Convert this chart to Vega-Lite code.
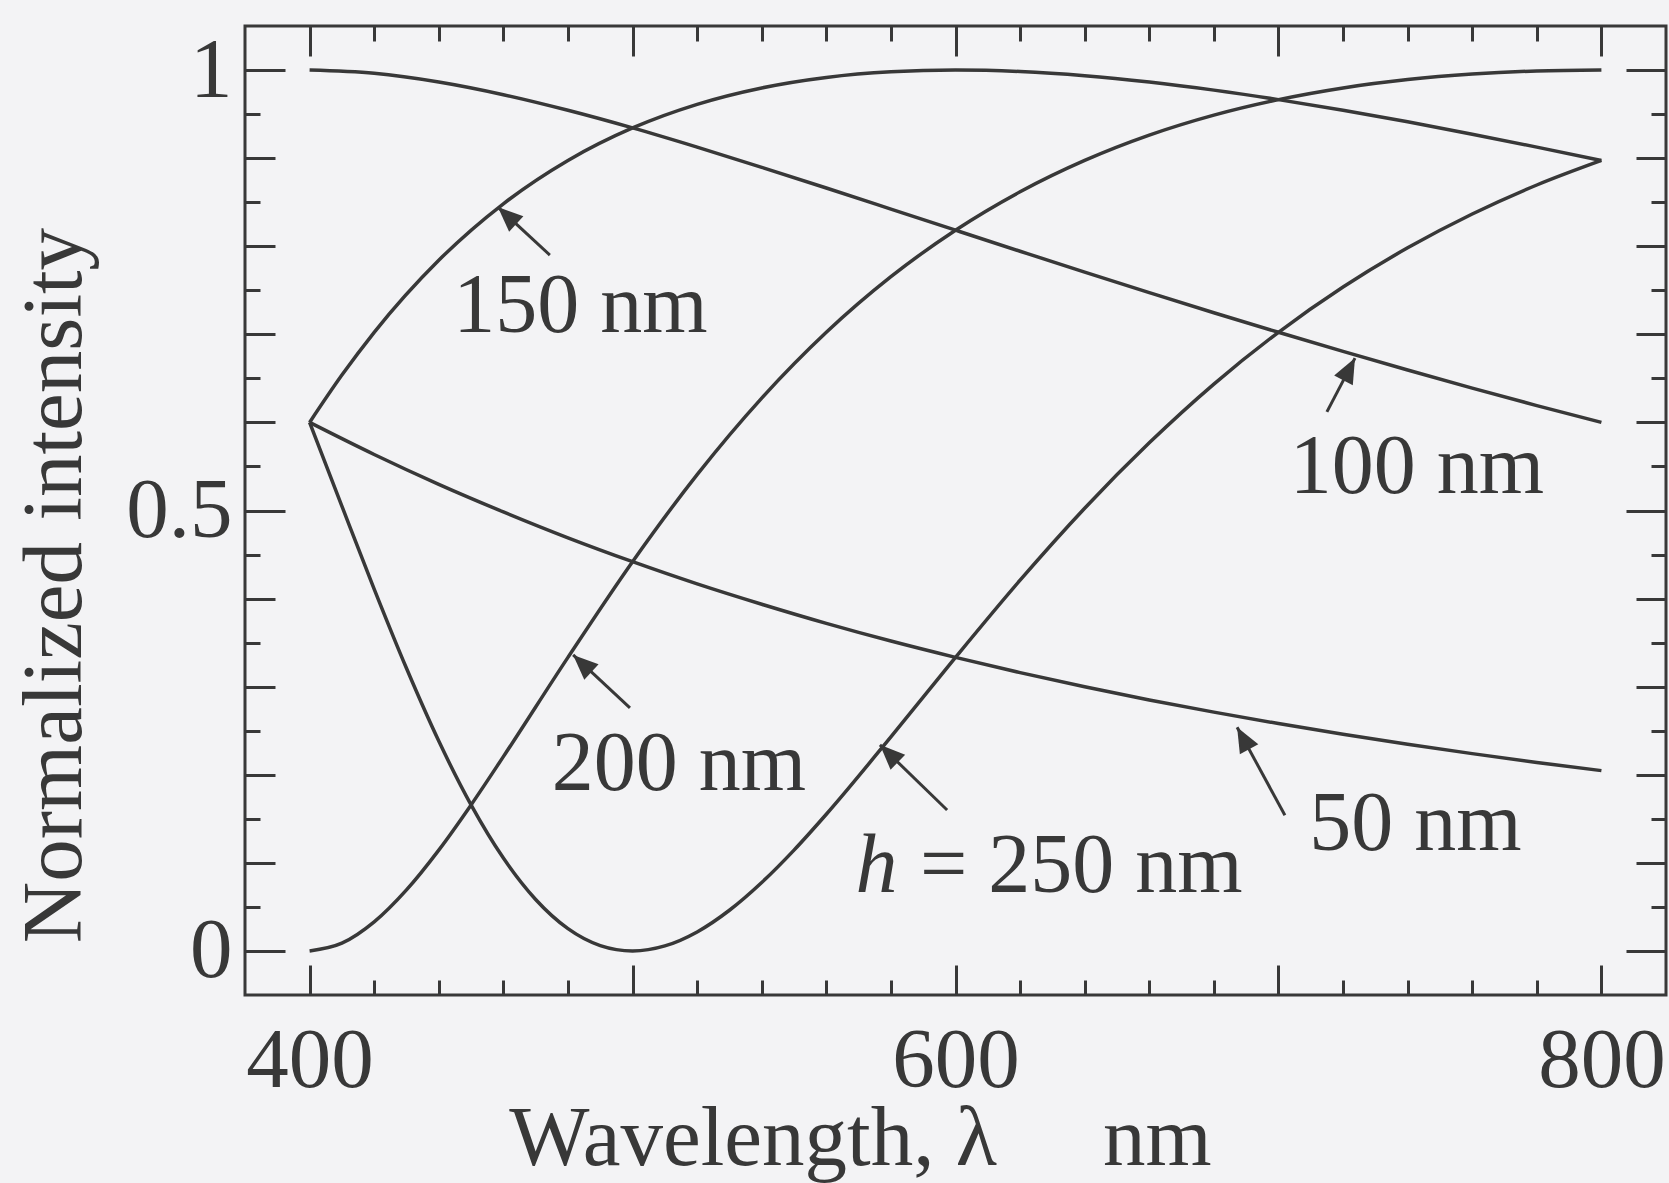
{
  "$schema": "https://vega.github.io/schema/vega-lite/v6.json",
  "autosize": "none",
  "padding": {"left": 245, "top": 26, "right": 3, "bottom": 188},
  "width": 1421,
  "height": 969,
  "background": "#f3f3f5",
  "config": {
    "view": {"stroke": "#383838", "strokeWidth": 3},
    "axis": {
      "domain": false, "grid": false,
      "tickColor": "#383838", "tickWidth": 3,
      "labelFont": "Liberation Serif", "labelFontSize": 85, "labelColor": "#383838",
      "titleFont": "Liberation Serif", "titleFontSize": 85, "titleColor": "#383838", "titleFontWeight": "normal",
      "labelOverlap": false, "labelFlush": false
    }
  },
  "datasets": {
    "curves": [
      {"h": 50, "wl": 400, "I": 0.6}, {"h": 50, "wl": 420, "I": 0.5636}, {"h": 50, "wl": 440, "I": 0.5297}, {"h": 50, "wl": 460, "I": 0.4984}, {"h": 50, "wl": 480, "I": 0.469}, {"h": 50, "wl": 500, "I": 0.4419}, {"h": 50, "wl": 520, "I": 0.4167}, {"h": 50, "wl": 540, "I": 0.3936}, {"h": 50, "wl": 560, "I": 0.3719}, {"h": 50, "wl": 580, "I": 0.3518}, {"h": 50, "wl": 600, "I": 0.3333}, {"h": 50, "wl": 620, "I": 0.316}, {"h": 50, "wl": 640, "I": 0.3}, {"h": 50, "wl": 660, "I": 0.2849}, {"h": 50, "wl": 680, "I": 0.2711}, {"h": 50, "wl": 700, "I": 0.2581}, {"h": 50, "wl": 720, "I": 0.2459}, {"h": 50, "wl": 740, "I": 0.2346}, {"h": 50, "wl": 760, "I": 0.224}, {"h": 50, "wl": 780, "I": 0.214}, {"h": 50, "wl": 800, "I": 0.2047},
      {"h": 100, "wl": 400, "I": 1}, {"h": 100, "wl": 420, "I": 0.9963}, {"h": 100, "wl": 440, "I": 0.9864}, {"h": 100, "wl": 460, "I": 0.972}, {"h": 100, "wl": 480, "I": 0.9543}, {"h": 100, "wl": 500, "I": 0.9343}, {"h": 100, "wl": 520, "I": 0.9125}, {"h": 100, "wl": 540, "I": 0.8896}, {"h": 100, "wl": 560, "I": 0.8661}, {"h": 100, "wl": 580, "I": 0.8422}, {"h": 100, "wl": 600, "I": 0.8182}, {"h": 100, "wl": 620, "I": 0.7943}, {"h": 100, "wl": 640, "I": 0.7706}, {"h": 100, "wl": 660, "I": 0.7474}, {"h": 100, "wl": 680, "I": 0.7245}, {"h": 100, "wl": 700, "I": 0.7023}, {"h": 100, "wl": 720, "I": 0.6806}, {"h": 100, "wl": 740, "I": 0.6595}, {"h": 100, "wl": 760, "I": 0.6389}, {"h": 100, "wl": 780, "I": 0.6191}, {"h": 100, "wl": 800, "I": 0.6},
      {"h": 150, "wl": 400, "I": 0.6}, {"h": 150, "wl": 410, "I": 0.6537}, {"h": 150, "wl": 420, "I": 0.7023}, {"h": 150, "wl": 440, "I": 0.7841}, {"h": 150, "wl": 460, "I": 0.8482}, {"h": 150, "wl": 480, "I": 0.8974}, {"h": 150, "wl": 500, "I": 0.9343}, {"h": 150, "wl": 520, "I": 0.9611}, {"h": 150, "wl": 540, "I": 0.9797}, {"h": 150, "wl": 560, "I": 0.9916}, {"h": 150, "wl": 580, "I": 0.998}, {"h": 150, "wl": 600, "I": 1}, {"h": 150, "wl": 620, "I": 0.9983}, {"h": 150, "wl": 640, "I": 0.9936}, {"h": 150, "wl": 660, "I": 0.9864}, {"h": 150, "wl": 680, "I": 0.9772}, {"h": 150, "wl": 700, "I": 0.9664}, {"h": 150, "wl": 720, "I": 0.9543}, {"h": 150, "wl": 740, "I": 0.9412}, {"h": 150, "wl": 760, "I": 0.9272}, {"h": 150, "wl": 780, "I": 0.9125}, {"h": 150, "wl": 800, "I": 0.8974},
      {"h": 200, "wl": 400, "I": 0}, {"h": 200, "wl": 410, "I": 0.0088}, {"h": 200, "wl": 420, "I": 0.033}, {"h": 200, "wl": 430, "I": 0.0693}, {"h": 200, "wl": 440, "I": 0.1145}, {"h": 200, "wl": 450, "I": 0.1658}, {"h": 200, "wl": 460, "I": 0.2206}, {"h": 200, "wl": 480, "I": 0.3333}, {"h": 200, "wl": 500, "I": 0.4419}, {"h": 200, "wl": 520, "I": 0.5407}, {"h": 200, "wl": 540, "I": 0.6276}, {"h": 200, "wl": 560, "I": 0.7023}, {"h": 200, "wl": 580, "I": 0.7654}, {"h": 200, "wl": 600, "I": 0.8182}, {"h": 200, "wl": 620, "I": 0.8618}, {"h": 200, "wl": 640, "I": 0.8974}, {"h": 200, "wl": 660, "I": 0.9261}, {"h": 200, "wl": 680, "I": 0.9488}, {"h": 200, "wl": 700, "I": 0.9664}, {"h": 200, "wl": 720, "I": 0.9797}, {"h": 200, "wl": 740, "I": 0.9892}, {"h": 200, "wl": 760, "I": 0.9954}, {"h": 200, "wl": 780, "I": 0.9989}, {"h": 200, "wl": 800, "I": 1},
      {"h": 250, "wl": 400, "I": 0.6}, {"h": 250, "wl": 410, "I": 0.505}, {"h": 250, "wl": 420, "I": 0.4108}, {"h": 250, "wl": 430, "I": 0.3209}, {"h": 250, "wl": 440, "I": 0.2383}, {"h": 250, "wl": 450, "I": 0.1658}, {"h": 250, "wl": 460, "I": 0.1054}, {"h": 250, "wl": 470, "I": 0.0584}, {"h": 250, "wl": 480, "I": 0.0253}, {"h": 250, "wl": 490, "I": 0.0061}, {"h": 250, "wl": 500, "I": 0}, {"h": 250, "wl": 510, "I": 0.0057}, {"h": 250, "wl": 520, "I": 0.0216}, {"h": 250, "wl": 530, "I": 0.0462}, {"h": 250, "wl": 540, "I": 0.0777}, {"h": 250, "wl": 550, "I": 0.1145}, {"h": 250, "wl": 560, "I": 0.1552}, {"h": 250, "wl": 580, "I": 0.243}, {"h": 250, "wl": 600, "I": 0.3333}, {"h": 250, "wl": 620, "I": 0.4209}, {"h": 250, "wl": 640, "I": 0.5026}, {"h": 250, "wl": 660, "I": 0.5768}, {"h": 250, "wl": 680, "I": 0.6435}, {"h": 250, "wl": 700, "I": 0.7023}, {"h": 250, "wl": 720, "I": 0.7537}, {"h": 250, "wl": 740, "I": 0.7982}, {"h": 250, "wl": 760, "I": 0.8366}, {"h": 250, "wl": 780, "I": 0.8695}, {"h": 250, "wl": 800, "I": 0.8974}
    ],
    "arrows": [
      {"curve": 150, "x": 474.4, "y": 0.79, "tx": 458.3, "ty": 0.8445, "angle": -47.3},
      {"curve": 100, "x": 715, "y": 0.612, "tx": 723.7, "ty": 0.673, "angle": 27.4},
      {"curve": 200, "x": 499.2, "y": 0.276, "tx": 481.6, "ty": 0.336, "angle": -47.1},
      {"curve": 250, "x": 597.4, "y": 0.16, "tx": 576.6, "ty": 0.234, "angle": -45.9},
      {"curve": 50, "x": 702, "y": 0.154, "tx": 687.2, "ty": 0.254, "angle": -28.6}
    ],
    "labels": [
      {"text": "150 nm", "x": 444.5, "y": 0.7026},
      {"text": "100 nm", "x": 703.5, "y": 0.52},
      {"text": "200 nm", "x": 475, "y": 0.183},
      {"text": "= 250 nm", "x": 589, "y": 0.067},
      {"text": "50 nm", "x": 709.5, "y": 0.1146}
    ],
    "italic": [
      {"text": "h", "x": 569, "y": 0.067}
    ]
  },
  "resolve": {"axis": {"x": "independent", "y": "independent"}},
  "layer": [
    {
      "data": {"name": "curves"},
      "mark": {"type": "line", "interpolate": "monotone", "color": "#383838", "strokeWidth": 3.5},
      "encoding": {
        "x": {
          "field": "wl", "type": "quantitative",
          "scale": {"domain": [380, 820], "nice": false, "zero": false},
          "axis": {
            "orient": "bottom",
            "values": [400, 420, 440, 460, 480, 500, 520, 540, 560, 580, 600, 620, 640, 660, 680, 700, 720, 740, 760, 780, 800],
            "tickSize": {"condition": {"test": "datum.value % 100 == 0", "value": -30}, "value": -15},
            "labelExpr": "datum.value == 400 || datum.value == 600 || datum.value == 800 ? '' + datum.value : ''",
            "labelPadding": 121,
            "labelBaseline": "alphabetic",
            "title": "Wavelength, λ\u00a0\u00a0\u00a0\u00a0\u00a0nm",
            "titleX": 615,
            "titleY": 169,
            "titleBaseline": "alphabetic",
            "titleAlign": "center"
          }
        },
        "y": {
          "field": "I", "type": "quantitative",
          "scale": {"domain": [-0.05, 1.05], "nice": false, "zero": false},
          "axis": {
            "orient": "left",
            "values": [0, 0.05, 0.1, 0.15, 0.2, 0.25, 0.3, 0.35, 0.4, 0.45, 0.5, 0.55, 0.6, 0.65, 0.7, 0.75, 0.8, 0.85, 0.9, 0.95, 1],
            "tickSize": {"condition": [{"test": "datum.value == 0 || datum.value == 0.5 || datum.value == 1", "value": -40}, {"test": "round(datum.value * 20) % 2 == 0", "value": -30}], "value": -15},
            "labelExpr": "datum.value == 0 ? '0' : datum.value == 0.5 ? '0.5' : datum.value == 1 ? '1' : ''",
            "labelPadding": 53,
            "labelBaseline": "middle",
            "labelAlign": "right",
            "title": "Normalized intensity",
            "titleX": -165,
            "titleY": 559,
            "titleAngle": -90,
            "titleBaseline": "alphabetic",
            "titleAlign": "center"
          }
        },
        "detail": {"field": "h", "type": "nominal"}
      }
    },
    {
      "data": {"name": "arrows"},
      "mark": {"type": "rule", "color": "#383838", "strokeWidth": 3},
      "encoding": {
        "x": {
          "field": "x", "type": "quantitative",
          "axis": {
            "orient": "top",
            "values": [400, 420, 440, 460, 480, 500, 520, 540, 560, 580, 600, 620, 640, 660, 680, 700, 720, 740, 760, 780, 800],
            "tickSize": {"condition": {"test": "datum.value % 100 == 0", "value": -30}, "value": -15},
            "labels": false, "title": null
          }
        },
        "y": {
          "field": "y", "type": "quantitative",
          "axis": {
            "orient": "right",
            "values": [0, 0.05, 0.1, 0.15, 0.2, 0.25, 0.3, 0.35, 0.4, 0.45, 0.5, 0.55, 0.6, 0.65, 0.7, 0.75, 0.8, 0.85, 0.9, 0.95, 1],
            "tickSize": {"condition": [{"test": "datum.value == 0 || datum.value == 0.5 || datum.value == 1", "value": -40}, {"test": "round(datum.value * 20) % 2 == 0", "value": -30}], "value": -15},
            "labels": false, "title": null
          }
        },
        "x2": {"field": "tx"},
        "y2": {"field": "ty"}
      }
    },
    {
      "data": {"name": "arrows"},
      "mark": {"type": "point", "shape": "M0,0L-0.42,1L0.42,1Z", "filled": true, "color": "#383838", "opacity": 1, "size": 2500},
      "encoding": {
        "x": {"field": "tx", "type": "quantitative", "axis": null},
        "y": {"field": "ty", "type": "quantitative", "axis": null},
        "angle": {"field": "angle", "type": "quantitative", "scale": null}
      }
    },
    {
      "data": {"name": "labels"},
      "mark": {"type": "text", "font": "Liberation Serif", "fontSize": 84, "color": "#383838", "align": "left", "baseline": "alphabetic"},
      "encoding": {
        "x": {"field": "x", "type": "quantitative", "axis": null},
        "y": {"field": "y", "type": "quantitative", "axis": null},
        "text": {"field": "text"}
      }
    },
    {
      "data": {"name": "italic"},
      "mark": {"type": "text", "font": "Liberation Serif", "fontSize": 84, "fontStyle": "italic", "color": "#383838", "align": "left", "baseline": "alphabetic"},
      "encoding": {
        "x": {"field": "x", "type": "quantitative", "axis": null},
        "y": {"field": "y", "type": "quantitative", "axis": null},
        "text": {"field": "text"}
      }
    }
  ]
}
